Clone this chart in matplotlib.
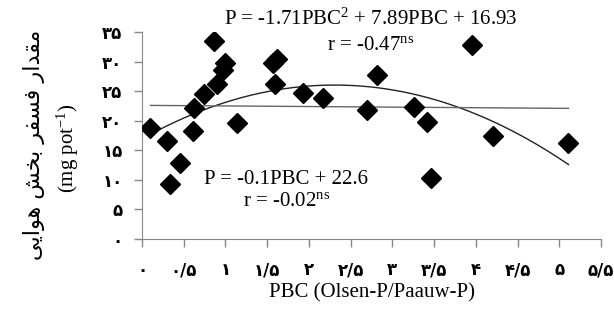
import matplotlib.pyplot as plt
import numpy as np

plt.rcParams['mathtext.fontset'] = 'custom'
plt.rcParams['mathtext.rm'] = 'Liberation Serif'
plt.rcParams['mathtext.it'] = 'Liberation Serif:italic'

# PBC vs shoot P
pbc = [0.10, 0.30, 0.33, 0.45, 0.61, 0.62, 0.74, 0.86, 0.90, 0.97, 1.00, 1.14, 1.57,
       1.59, 1.62, 1.93, 2.17, 2.70, 2.81, 3.26, 3.41, 3.46, 3.95, 4.20, 5.11]
p_shoot = [18.7, 16.5, 9.3, 12.9, 18.3, 22.1, 24.5, 33.4, 26.2, 28.5, 29.7, 19.7, 29.7,
           26.2, 30.4, 24.7, 23.8, 21.8, 27.7, 22.4, 19.8, 10.4, 32.8, 17.4, 16.3]

# fitted equations shown on the chart
quad_coef = [-1.71, 7.89, 16.93]
lin_coef = [-0.1, 22.6]

x_ticks = [0, 0.5, 1, 1.5, 2, 2.5, 3, 3.5, 4, 4.5, 5, 5.5]
x_ticklabels = ['۰', '۰/۵', '۱', '۱/۵', '۲', '۲/۵', '۳', '۳/۵', '۴', '۴/۵', '۵', '۵/۵']
y_ticks = [0, 5, 10, 15, 20, 25, 30, 35]
y_ticklabels = ['۰', '۵', '۱۰', '۱۵', '۲۰', '۲۵', '۳۰', '۳۵']

# matplotlib does no Arabic shaping / bidi, so use presentation forms in visual order
# "مقدار فسفر بخش هوایی"
words = [
    '\uFEE3\uFED8\uFEAA\uFE8D\uFEAD',
    '\uFED3\uFEB4\uFED4\uFEAE',
    '\uFE91\uFEA8\uFEB6',
    '\uFEEB\uFEEE\uFE8D\uFEF3\uFEF0',
]
fa_label = ' '.join(words)[::-1]

fig = plt.figure(figsize=(6.14, 3.09), dpi=100)
ax = fig.add_axes([0.2313, 0.2265, 0.7476, 0.6699])

ax.plot(pbc, p_shoot, 'D', color='black', ms=10, zorder=3)

xs = np.linspace(min(pbc), max(pbc), 200)
ax.plot(xs, np.polyval(quad_coef, xs), color='#222222', lw=1.0)
ax.plot(xs, np.polyval(lin_coef, xs), color='#666666', lw=1.0)

ax.set_xlim(0, 5.5)
ax.set_ylim(0, 35)
ax.set_xticks(x_ticks)
ax.set_xticklabels(x_ticklabels)
ax.set_yticks(y_ticks)
ax.set_yticklabels(y_ticklabels)
for lab in ax.get_xticklabels() + ax.get_yticklabels():
    lab.set_fontfamily('DejaVu Sans')
    lab.set_fontweight('bold')
    lab.set_fontsize(12)

for s in ['top', 'right']:
    ax.spines[s].set_visible(False)
for s in ['left', 'bottom']:
    ax.spines[s].set_color('#888888')
ax.tick_params(colors='#888888', length=6, width=1, labelcolor='black')
ax.tick_params(axis='x', pad=10)
ax.tick_params(axis='y', pad=8)

ax.set_xlabel('PBC (Olsen-P/Paauw-P)', family='Liberation Serif', fontsize=15, labelpad=3)

fig.text(0.056, 0.53, fa_label, rotation=90, ha='center', va='center',
         family='DejaVu Sans', fontsize=16)
fig.text(0.111, 0.52, '(mg pot$^{-1}$)', rotation=90, ha='center', va='center',
         family='Liberation Serif', fontsize=15)

ax.text(2.74, 37.1, 'P = -1.71PBC$^{2}$ + 7.89PBC + 16.93', ha='center', va='center',
        family='Liberation Serif', fontsize=15)
ax.text(2.74, 32.8, 'r = -0.47$^{\\mathrm{ns}}$', ha='center', va='center',
        family='Liberation Serif', fontsize=15)
ax.text(1.73, 10.0, 'P = -0.1PBC + 22.6', ha='center', va='center',
        family='Liberation Serif', fontsize=15)
ax.text(1.73, 6.3, 'r = -0.02$^{\\mathrm{ns}}$', ha='center', va='center',
        family='Liberation Serif', fontsize=15)

fig.savefig('out.png', dpi=100)
